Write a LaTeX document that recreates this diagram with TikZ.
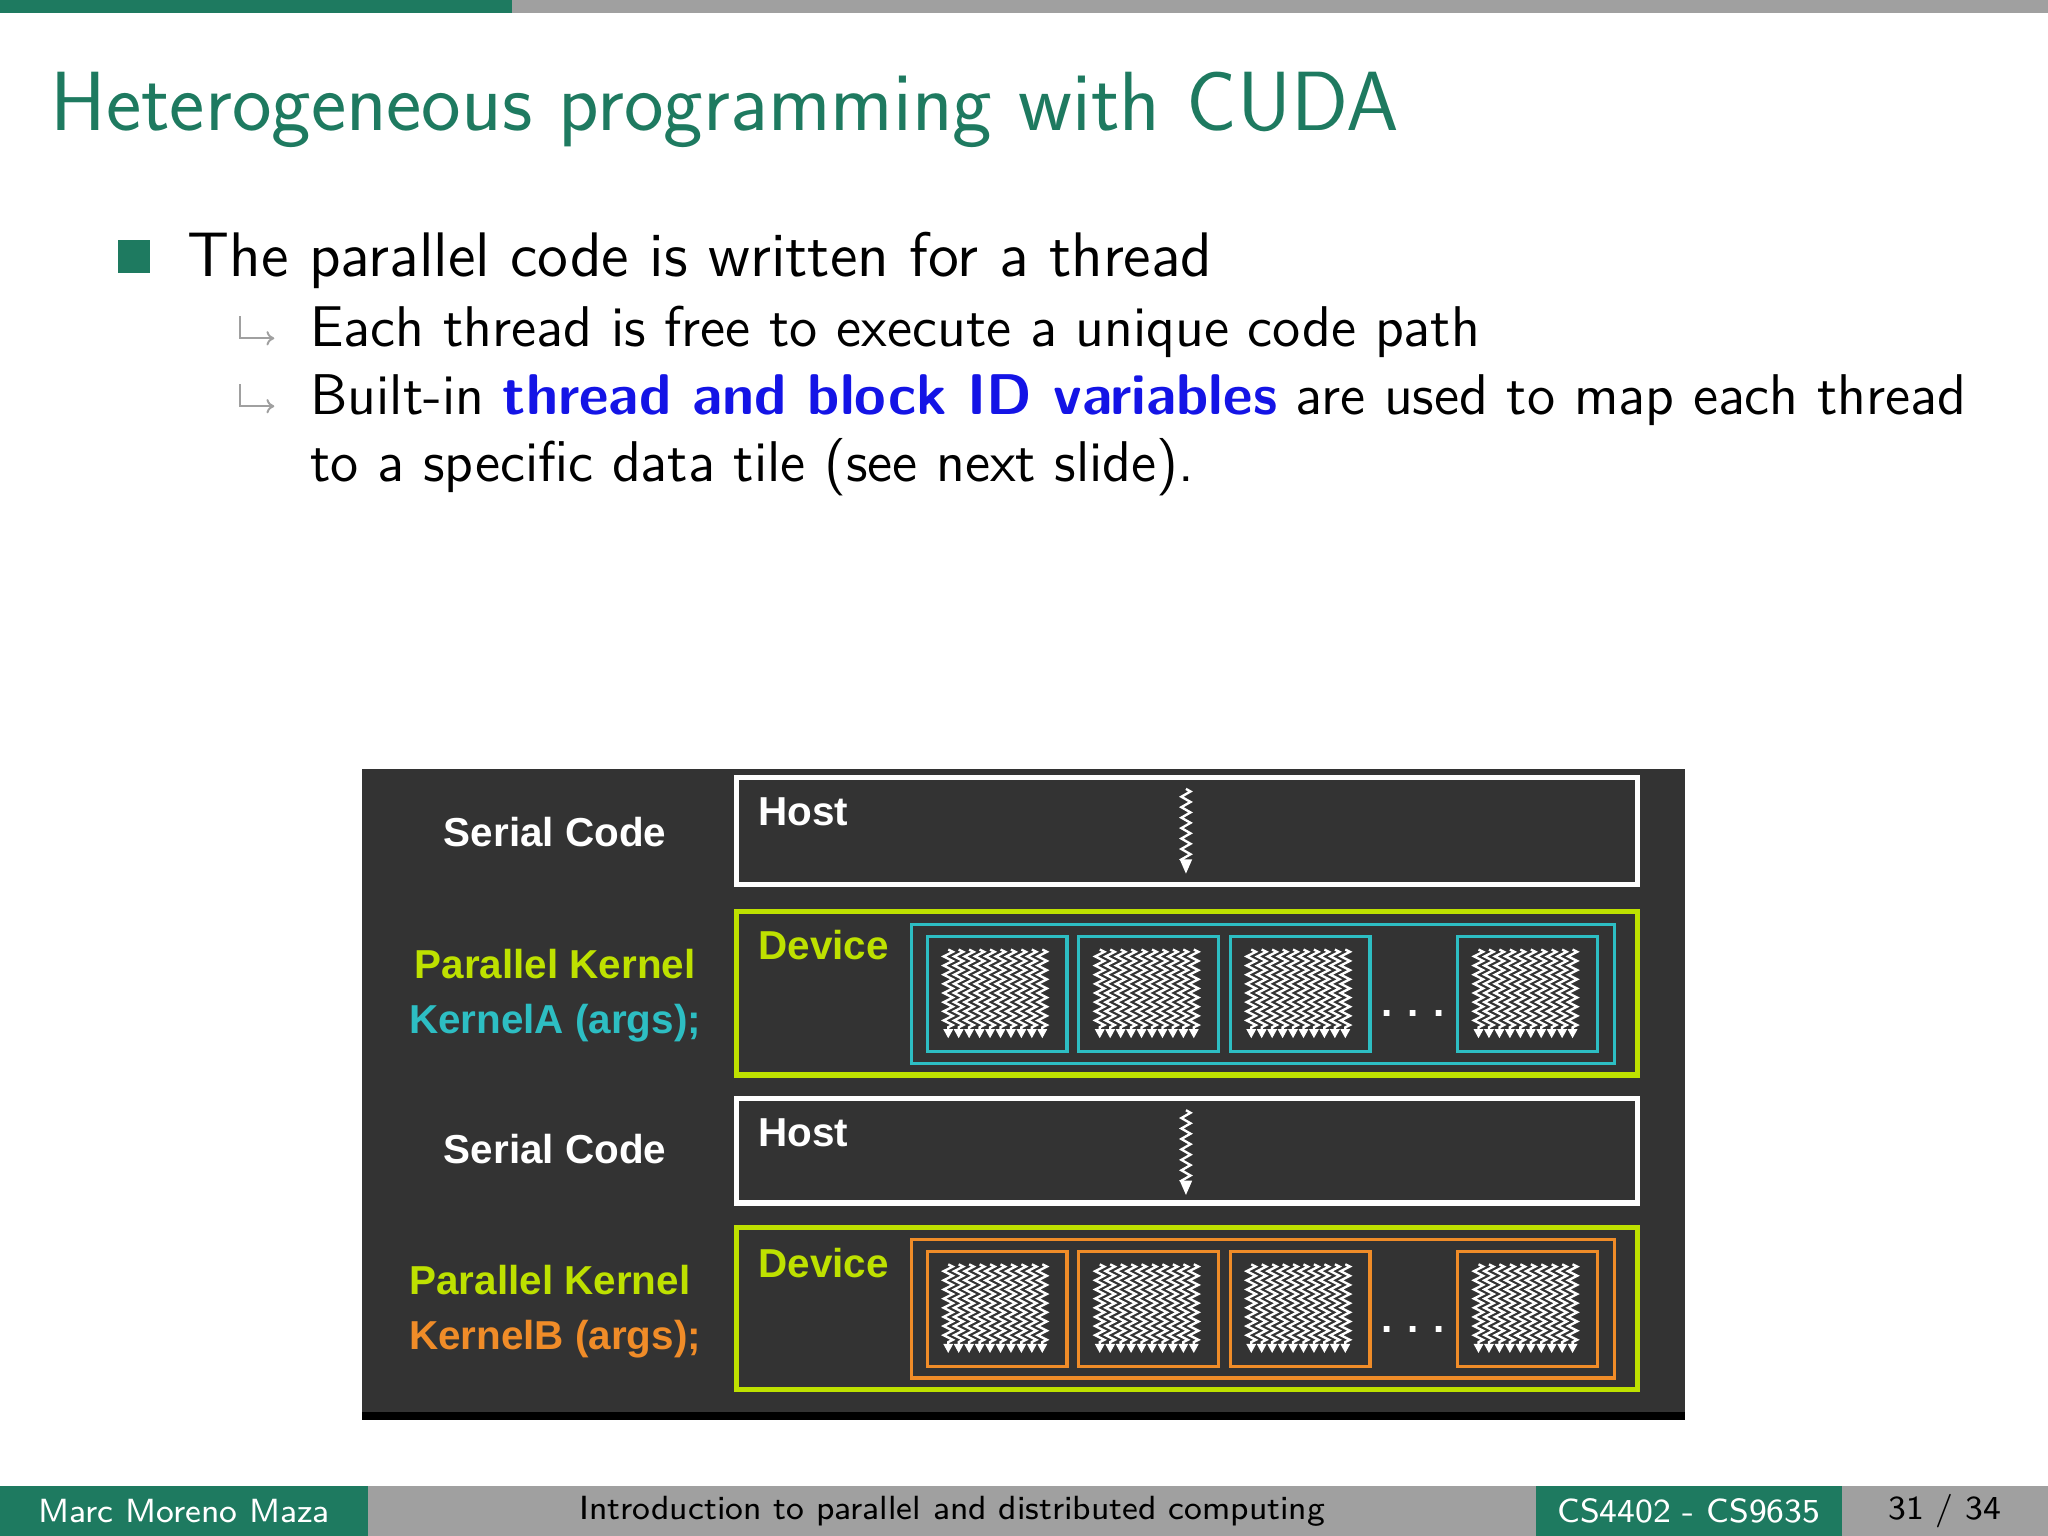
\documentclass[tikz,border=0pt]{standalone}
\usepackage{fontspec}
\usetikzlibrary{decorations.pathmorphing,arrows.meta}
\newfontfamily\arialbf{Liberation Sans}
\definecolor{bmgreen}{RGB}{30,122,96}
\definecolor{bargray}{RGB}{160,160,160}
\definecolor{panel}{RGB}{51,51,51}
\definecolor{lime}{RGB}{190,225,0}
\definecolor{kcyan}{RGB}{45,190,195}
\definecolor{korange}{RGB}{240,140,40}
\definecolor{linkblue}{RGB}{20,20,230}
\tikzset{
  lbl/.style={font=\arialbf\bfseries\fontsize{8.8}{10}\selectfont},
  box/.style={line width=0.4mm},
  inbox/.style={line width=0.25mm},
  body/.style={anchor=base west, inner sep=0, font=\sffamily\fontsize{13.7}{16}\selectfont},
  subbody/.style={body, font=\sffamily\fontsize{12.5}{15}\selectfont},
  thr/.style={white, line width=0.18mm, decorate,
    decoration={zigzag, segment length=0.7mm, amplitude=0.35mm, post length=0.6mm},
    -{Triangle[width=0.7mm,length=0.7mm]}},
  hostthr/.style={white, line width=0.18mm, decorate,
    decoration={zigzag, segment length=0.8mm, amplitude=0.35mm, post length=0.8mm},
    -{Triangle[width=0.9mm,length=1.1mm]}},
  sub/.style={bargray, line width=0.15mm, -{To[length=0.6mm,width=1.1mm]}}
}
% block of threads: top-left x, y, colour
\newcommand\thrblock[3]{%
  \draw[#3, inbox] (#1,#2) rectangle ++(107,88);
  \foreach \k in {0,...,9}
    \draw[thr] (#1+16+8*\k,#2+10) -- (#1+16+8*\k,#2+78);
}
\begin{document}
\begin{tikzpicture}[x=0.01cm,y=-0.01cm]
\useasboundingbox (0,0) rectangle (1568,1176);
% top bar
\fill[bargray] (0,0) rectangle (1568,10);
\fill[bmgreen] (0,0) rectangle (392,10);
% title
\node[anchor=base west, inner sep=0, text=bmgreen, font=\sffamily\fontsize{18.3}{22}\selectfont] (title) at (38,100) {Heterogeneous programming with CUDA};
% bullets
\fill[bmgreen] (90,184) rectangle (115,209);
\node[body] (b1) at (143,212) {The parallel code is written for a thread};
\coordinate (a1s) at (184,242);
\coordinate (a1e) at (210,259);
\coordinate (a2s) at (184,294);
\coordinate (a2e) at (210,311);
\draw[sub] (a1s) |- (a1e);
\draw[sub] (a2s) |- (a2e);
\node[subbody] (b2) at (237,265) {Each thread is free to execute a unique code path};
\node[subbody] (b3) at (237,317) {Built-in \textcolor{linkblue}{\bfseries thread and block ID variables} are used to map each thread};
\node[subbody] (b4) at (237,369) {to a specific data tile (see next slide).};
% diagram panel
\fill[panel] (277,589) rectangle (1290,1083);
\fill[black] (277,1081) rectangle (1290,1087);
% rows
\draw[white, box] (564,595) rectangle (1254,677);
\draw[lime, box] (564,698) rectangle (1254,823);
\draw[white, box] (564,841) rectangle (1254,921);
\draw[lime, box] (564,940) rectangle (1254,1064);
\draw[kcyan, inbox] (698,708) rectangle (1236,814);
\draw[korange, inbox] (698,949) rectangle (1236,1055);
\thrblock{710}{717}{kcyan}
\thrblock{826}{717}{kcyan}
\thrblock{942}{717}{kcyan}
\thrblock{1116}{717}{kcyan}
\thrblock{710}{958}{korange}
\thrblock{826}{958}{korange}
\thrblock{942}{958}{korange}
\thrblock{1116}{958}{korange}
\node[lbl, white] (d1) at (1082,776) {. . .};
\node[lbl, white] (d2) at (1082,1018) {. . .};
% host threads
\coordinate (h1s) at (908,604);
\coordinate (h1e) at (908,669);
\coordinate (h2s) at (908,850);
\coordinate (h2e) at (908,915);
\draw[hostthr] (h1s) -- (h1e);
\draw[hostthr] (h2s) -- (h2e);
% box labels
\node[lbl, white, anchor=base west, inner sep=0] (host1) at (580,632) {Host};
\node[lbl, lime, anchor=base west, inner sep=0] (dev1) at (580,735) {Device};
\node[lbl, white, anchor=base west, inner sep=0] (host2) at (580,878) {Host};
\node[lbl, lime, anchor=base west, inner sep=0] (dev2) at (580,978) {Device};
% left labels
\node[lbl, white] (s1) at (425,637) {Serial Code};
\node[lbl, lime] (pk1) at (425,738) {Parallel Kernel};
\node[lbl, kcyan] (ka) at (425,783) {KernelA (args);};
\node[lbl, white] (s2) at (425,880) {Serial Code};
\node[lbl, lime] (pk2) at (421,980) {Parallel Kernel};
\node[lbl, korange] (kb) at (425,1025) {KernelB (args);};
% footer
\fill[bargray] (0,1138) rectangle (1568,1176);
\fill[bmgreen] (0,1138) rectangle (282,1176);
\fill[bmgreen] (1176,1138) rectangle (1410,1176);
\tikzset{foot/.style={font=\sffamily\fontsize{7.3}{9}\selectfont, inner sep=0}}
\node[foot, white] (f1) at (141,1157) {Marc Moreno Maza};
\node[foot, black] (f2) at (729,1157) {Introduction to parallel and distributed computing};
\node[foot, white] (f3) at (1293,1157) {CS4402 - CS9635};
\node[foot, black] (f4) at (1489,1157) {31 / 34};
\end{tikzpicture}
\end{document}
